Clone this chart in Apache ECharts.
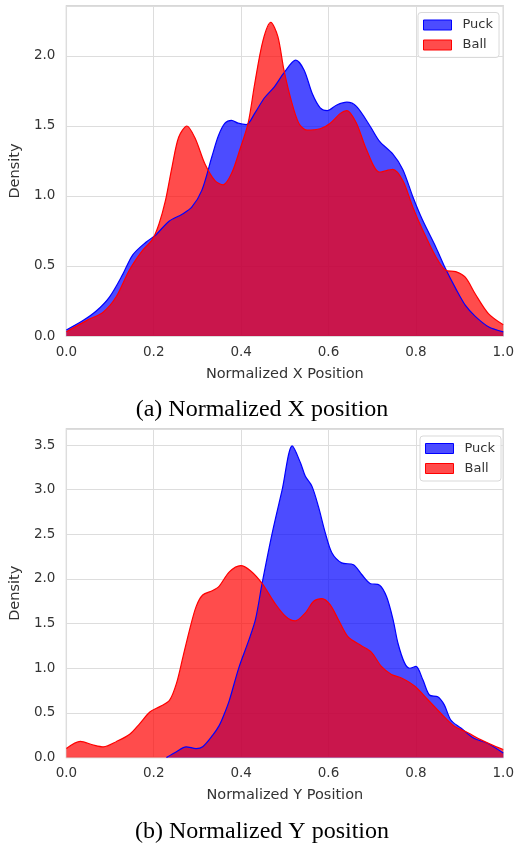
<!DOCTYPE html>
<html><head><meta charset="utf-8">
<script src="https://cdn.jsdelivr.net/npm/echarts@6/dist/echarts.min.js"></script>
<style>html,body{margin:0;padding:0;background:#fff;} #c{width:517px;height:849px;}</style>
</head><body><div id="c"></div>
<script>
// ---- data ----
const xTickLabels = ['0.0','0.2','0.4','0.6','0.8','1.0'];
const seriesNames = ['Puck','Ball'];
const captions = ['(a) Normalized X position','(b) Normalized Y position'];
const axisNames = ['Normalized X Position','Normalized Y Position'];

// Panel (a): Normalized X position
const puckXPos = [0, 0.038, 0.069, 0.099, 0.129, 0.152, 0.182, 0.204, 0.235, 0.265, 0.287, 0.31, 0.333, 0.348, 0.363, 0.378, 0.393, 0.412, 0.431, 0.453, 0.476, 0.498, 0.525, 0.544, 0.563, 0.581, 0.597, 0.619, 0.642, 0.664, 0.695, 0.717, 0.747, 0.77, 0.793, 0.815, 0.845, 0.868, 0.891, 0.913, 0.936, 0.966, 1.0];
const puckXDen = [0.043, 0.11, 0.18, 0.28, 0.44, 0.58, 0.67, 0.72, 0.82, 0.87, 0.92, 1.04, 1.28, 1.43, 1.52, 1.54, 1.52, 1.51, 1.59, 1.70, 1.78, 1.88, 1.97, 1.90, 1.73, 1.63, 1.61, 1.65, 1.67, 1.64, 1.50, 1.39, 1.30, 1.19, 0.995, 0.83, 0.64, 0.48, 0.34, 0.22, 0.14, 0.066, 0.03];
const ballXPos = [0, 0.046, 0.084, 0.114, 0.144, 0.174, 0.197, 0.212, 0.227, 0.242, 0.257, 0.276, 0.295, 0.317, 0.340, 0.359, 0.378, 0.397, 0.416, 0.431, 0.45, 0.468, 0.484, 0.498, 0.514, 0.532, 0.551, 0.581, 0.604, 0.627, 0.642, 0.664, 0.687, 0.717, 0.747, 0.77, 0.793, 0.815, 0.845, 0.868, 0.891, 0.913, 0.936, 0.966, 1.0];
const ballXDen = [0.03, 0.11, 0.17, 0.28, 0.47, 0.61, 0.69, 0.80, 0.97, 1.21, 1.42, 1.50, 1.41, 1.23, 1.11, 1.08, 1.16, 1.33, 1.52, 1.80, 2.11, 2.24, 2.14, 1.90, 1.69, 1.52, 1.47, 1.48, 1.52, 1.59, 1.61, 1.52, 1.33, 1.17, 1.19, 1.11, 0.92, 0.76, 0.57, 0.47, 0.46, 0.42, 0.30, 0.16, 0.08];

// Panel (b): Normalized Y position
const puckYPos = [0.229, 0.252, 0.274, 0.297, 0.312, 0.335, 0.35, 0.36, 0.373, 0.395, 0.418, 0.433, 0.448, 0.471, 0.494, 0.517, 0.536, 0.547, 0.562, 0.577, 0.593, 0.608, 0.63, 0.657, 0.676, 0.695, 0.717, 0.733, 0.748, 0.759, 0.774, 0.786, 0.80, 0.816, 0.831, 0.85, 0.865, 0.88, 0.903, 0.933, 0.964, 1.0];
const puckYDen = [0.0, 0.065, 0.12, 0.10, 0.12, 0.25, 0.36, 0.47, 0.64, 1.01, 1.32, 1.55, 1.95, 2.51, 3.0, 3.49, 3.30, 3.15, 3.04, 2.81, 2.51, 2.29, 2.18, 2.16, 2.05, 1.95, 1.93, 1.80, 1.54, 1.28, 1.06, 1.00, 1.02, 0.87, 0.70, 0.68, 0.59, 0.42, 0.33, 0.215, 0.16, 0.05];
const ballYPos = [0, 0.032, 0.062, 0.085, 0.115, 0.145, 0.168, 0.191, 0.214, 0.236, 0.252, 0.267, 0.282, 0.297, 0.312, 0.335, 0.35, 0.373, 0.399, 0.422, 0.448, 0.477, 0.502, 0.524, 0.547, 0.566, 0.585, 0.604, 0.623, 0.645, 0.676, 0.698, 0.721, 0.744, 0.767, 0.797, 0.827, 0.858, 0.888, 0.918, 0.948, 0.979, 1.0];
const ballYDen = [0.10, 0.18, 0.14, 0.12, 0.18, 0.26, 0.38, 0.51, 0.57, 0.64, 0.83, 1.13, 1.43, 1.69, 1.82, 1.87, 1.92, 2.08, 2.15, 2.09, 1.95, 1.73, 1.58, 1.53, 1.62, 1.75, 1.78, 1.71, 1.54, 1.35, 1.25, 1.18, 1.02, 0.93, 0.89, 0.80, 0.65, 0.49, 0.35, 0.28, 0.20, 0.13, 0.09];

// ---- chart ----
const zip = (a, b) => a.map((v, i) => [v, b[i]]);
const FONT = 'DejaVu Sans';
const TXT = '#333333';
const colors = { Puck: '#0000ff', Ball: '#ff0000' };

function xAxis(i, name) {
  return {
    gridIndex: i, type: 'value', min: 0, max: 1, interval: 0.2,
    axisLine: { show: false }, axisTick: { show: false },
    splitLine: { show: true, lineStyle: { color: '#dddddd', width: 1 } },
    axisLabel: { color: TXT, fontSize: 13.5, fontFamily: FONT, margin: 9,
      formatter: v => xTickLabels[Math.round(v / 0.2)] || '' },
    name: name, nameLocation: 'middle', nameGap: 30.5,
    nameTextStyle: { color: TXT, fontSize: 14.5, fontFamily: FONT }
  };
}
function yAxis(i, max, gap) {
  return {
    gridIndex: i, type: 'value', min: 0, max: max, interval: 0.5,
    axisLine: { show: false }, axisTick: { show: false },
    splitLine: { show: true, lineStyle: { color: '#dddddd', width: 1 } },
    axisLabel: { color: TXT, fontSize: 13.5, fontFamily: FONT, margin: 11,
      formatter: v => Math.abs(v / 0.5 - Math.round(v / 0.5)) < 1e-6 ? v.toFixed(1) : '' },
    name: 'Density', nameLocation: 'middle', nameGap: gap,
    nameTextStyle: { color: TXT, fontSize: 14.5, fontFamily: FONT }
  };
}
function series(name, axis, pos, den) {
  return {
    type: 'line', name: name, xAxisIndex: axis, yAxisIndex: axis,
    data: zip(pos, den), smooth: 0.3, symbol: 'none', showSymbol: false,
    lineStyle: { color: colors[name], width: 1.2 },
    itemStyle: { color: colors[name] },
    areaStyle: { color: colors[name], opacity: 0.7 },
    emphasis: { disabled: true }
  };
}
function legend(left, top) {
  return {
    orient: 'vertical', left: left, top: top, icon: 'rect',
    itemWidth: 28, itemHeight: 10, itemGap: 7, selectedMode: false,
    padding: [6, 6, 6, 5],
    backgroundColor: 'rgba(255,255,255,0.85)', borderColor: '#d9d9d9', borderWidth: 1, borderRadius: 3,
    textStyle: { color: TXT, fontSize: 13, fontFamily: FONT, lineHeight: 13, padding: [0, 0, 0, 6] },
    data: seriesNames.map(n => ({ name: n,
      itemStyle: { color: n === 'Puck' ? 'rgba(0,0,255,0.7)' : 'rgba(255,0,0,0.7)', borderColor: colors[n], borderWidth: 1 } }))
  };
}

const chart = echarts.init(document.getElementById('c'), null, { renderer: 'canvas' });
chart.setOption({
  animation: false,
  backgroundColor: '#ffffff',
  grid: [
    { left: 63, top: 6, width: 442, height: 330, show: true, borderColor: '#cccccc', borderWidth: 1.3, backgroundColor: 'transparent' },
    { left: 66, top: 429, width: 440, height: 328.5, show: true, borderColor: '#cccccc', borderWidth: 1.3, backgroundColor: 'transparent' }
  ],
  xAxis: [xAxis(0, axisNames[0]), xAxis(1, axisNames[1])],
  yAxis: [yAxis(0, 2.357, 37), yAxis(1, 3.68, 38.5)],
  legend: [legend(418, 12.5), legend(420, 436)],
  series: [
    series('Puck', 0, puckXPos, puckXDen),
    series('Ball', 0, ballXPos, ballXDen),
    series('Puck', 1, puckYPos, puckYDen),
    series('Ball', 1, ballYPos, ballYDen)
  ],
  graphic: [
    { type: 'text', x: 262, y: 410, style: { text: captions[0], font: '24px "Liberation Serif"', fill: '#000', textAlign: 'center', textVerticalAlign: 'middle' } },
    { type: 'text', x: 262, y: 832, style: { text: captions[1], font: '24px "Liberation Serif"', fill: '#000', textAlign: 'center', textVerticalAlign: 'middle' } }
  ]
});
</script>
</body></html>
